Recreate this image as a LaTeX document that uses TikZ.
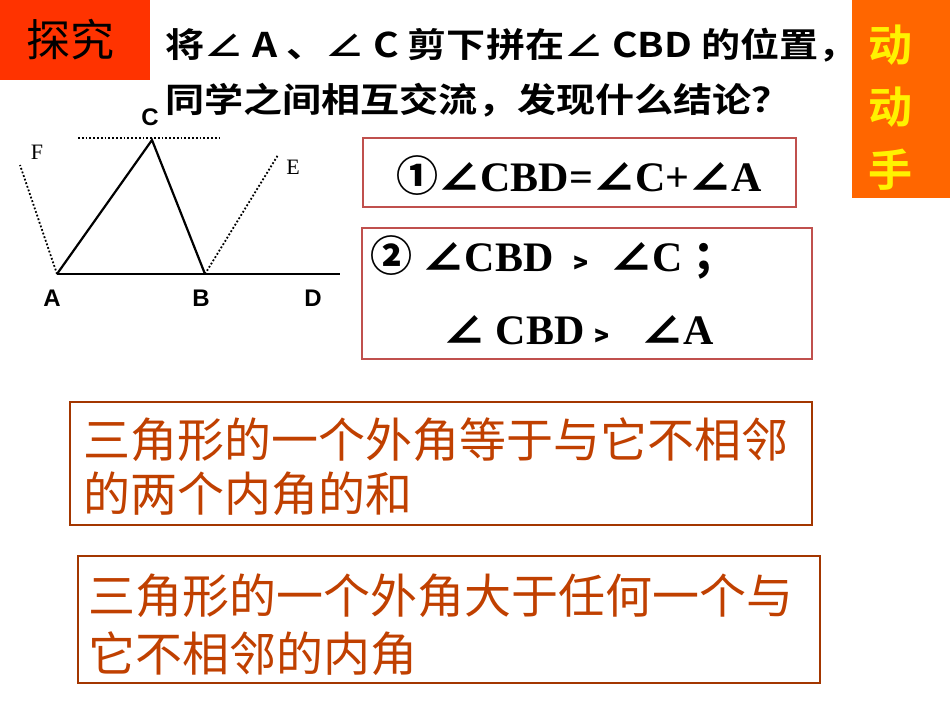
\documentclass[tikz,border=0pt]{standalone}
\usepackage{fontspec}
\setmainfont{Liberation Serif}
\newfontfamily\cjk{Noto Sans CJK SC}
\newfontfamily\cjkb{Noto Sans CJK SC Bold}
\newfontfamily\lsans{Liberation Sans}
\newcommand\sy[1]{{\cjk #1}}
\newcommand\gtr{{\cjk\fontsize{36}{36}\selectfont ﹥}}
\definecolor{boxred}{HTML}{C0504D}
\definecolor{txtred}{HTML}{C04000}
\definecolor{tan}{HTML}{FF3300}
\definecolor{dong}{HTML}{FF6600}
\tikzset{
  ansbox/.style={draw=boxred,line width=2pt},
  concl/.style={draw=txtred!85!black,line width=2pt},
  lbl/.style={font=\lsans\bfseries\fontsize{24}{24}\selectfont,inner sep=0},
  slbl/.style={font=\fontsize{22}{22}\selectfont,inner sep=0},
  dots/.style={dotted,line width=1.8pt},
  ctxt/.style={anchor=west,inner sep=0,text=txtred,font=\cjk\fontsize{47}{47}\selectfont},
  qtxt/.style={anchor=west,inner sep=0,xscale=1.15,font=\cjkb\fontsize{34}{34}\selectfont}
}
\begin{document}
\begin{tikzpicture}[x=1pt,y=-1pt]
\useasboundingbox (0,0) rectangle (950,713);
\fill[white] (0,0) rectangle (950,713);
% header boxes
\fill[tan] (0,0) rectangle (150,80);
\node[font=\cjk\fontsize{44}{44}\selectfont,inner sep=0] (tj) at (70,40) {探究};
\fill[dong] (852,0) rectangle (950,198);
\node[font=\cjkb\fontsize{44}{44}\selectfont,text=yellow,inner sep=0] (d1) at (890,45) {动};
\node[font=\cjkb\fontsize{44}{44}\selectfont,text=yellow,inner sep=0] (d2) at (890,107) {动};
\node[font=\cjkb\fontsize{44}{44}\selectfont,text=yellow,inner sep=0] (d3) at (890,170) {手};
\node[qtxt] (q1) at (165,45) {将∠ A 、∠ C 剪下拼在∠ CBD 的位置，};
\node[qtxt] (q2) at (165,100) {同学之间相互交流，发现什么结论？};
% figure
\coordinate (A) at (57,274); \coordinate (B) at (205,274);
\coordinate (C) at (152,140); \coordinate (D) at (340,274);
\coordinate (F) at (20,165); \coordinate (E) at (278,155);
\coordinate (T1) at (78,138); \coordinate (T2) at (220,138);
\draw[line width=2.2pt] (A) -- (C) -- (B);
\draw[line width=2.6pt] (A) -- (D);
\draw[dots] (T1) -- (T2);
\draw[dots] (A) -- (F);
\draw[dots] (B) -- (E);
\node[lbl] (lC) at (150,117) {C};
\node[lbl] (lA) at (52,298) {A};
\node[lbl] (lB) at (201,298) {B};
\node[lbl] (lD) at (313,298) {D};
\node[slbl] (lF) at (37,152) {F};
\node[slbl] (lE) at (293,167) {E};
% answer boxes
\draw[ansbox] (363,138) rectangle (796,207);
\node[inner sep=0,font=\bfseries\fontsize{42}{42}\selectfont] (a1) at (579,176) {\sy{①∠}CBD=\sy{∠}C+\sy{∠}A};
\draw[ansbox] (362,228) rectangle (812,359);
\node[anchor=west,inner sep=0,font=\bfseries\fontsize{42}{42}\selectfont] (a2) at (370,257) {\sy{②} \sy{∠}CBD \gtr\ \sy{∠}C \sy{；}};
\node[anchor=west,inner sep=0,font=\bfseries\fontsize{42}{42}\selectfont] (a3) at (443,330) {\sy{∠} CBD\gtr\ \ \sy{∠}A};
% conclusions
\draw[concl] (70,402) rectangle (812,525);
\node[ctxt] (c1) at (83,440) {三角形的一个外角等于与它不相邻};
\node[ctxt] (c2) at (83,494) {的两个内角的和};
\draw[concl] (78,556) rectangle (820,683);
\node[ctxt] (c3) at (88,596) {三角形的一个外角大于任何一个与};
\node[ctxt] (c4) at (88,654) {它不相邻的内角};
\end{tikzpicture}
\end{document}
